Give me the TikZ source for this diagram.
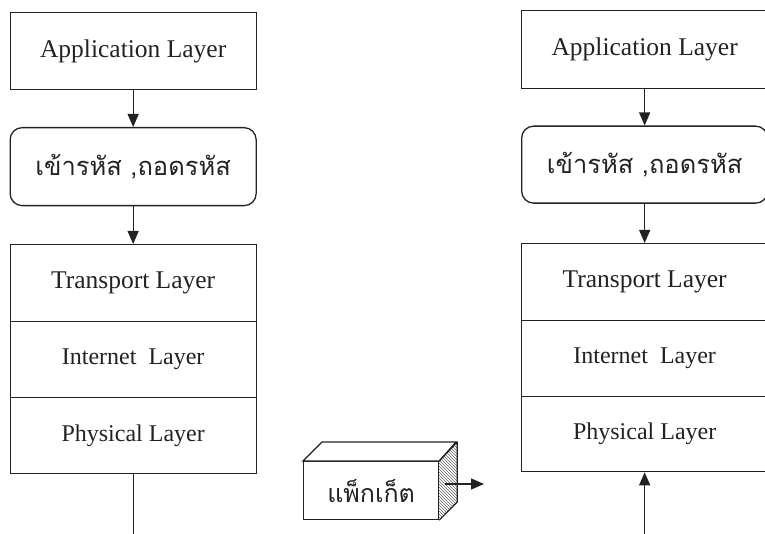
\documentclass[tikz,border=0pt]{standalone}
\usepackage{fontspec}
\setmainfont{Liberation Serif}
\newfontfamily\thaifont[Script=Thai]{Loma}
\usetikzlibrary{arrows.meta,calc}
\definecolor{ink}{HTML}{222222}
\begin{document}
\begin{tikzpicture}[x=1pt,y=-1pt,
  line width=1.3pt,
  box/.style={draw=ink, rectangle, inner sep=0pt, anchor=north west, text=ink,
              minimum width=246pt},
  roundbox/.style={box, rounded corners=12pt},
  bigtxt/.style={font=\fontsize{25.5}{28}\selectfont},
  smalltxt/.style={font=\fontsize{24}{27}\selectfont},
  thaitxt/.style={font=\thaifont\fontsize{25.5}{28}\selectfont},
  flow/.style={draw=ink, -{Triangle[length=13pt,width=11pt]}}
]
\useasboundingbox (0,0) rectangle (765,534);

% left protocol stack
\node[box, bigtxt, minimum height=77pt] (app1) at (9.5,12) {Application Layer};
\node[roundbox, thaitxt, minimum height=78pt] (code1) at (9.5,127) {เข้ารหัส ,ถอดรหัส};
\node[box, bigtxt, minimum height=77pt] (trans1) at (9.5,244) {Transport Layer};
\node[box, smalltxt, minimum height=76pt] (inet1) at (9.5,321) {Internet\ \ Layer};
\node[box, smalltxt, minimum height=76pt] (phys1) at (9.5,397) {Physical Layer};

% right protocol stack
\node[box, bigtxt, minimum height=78pt] (app2) at (521,10) {Application Layer};
\node[roundbox, thaitxt, minimum height=77pt] (code2) at (521,125.5) {เข้ารหัส ,ถอดรหัส};
\node[box, bigtxt, minimum height=77pt] (trans2) at (521,243) {Transport Layer};
\node[box, smalltxt, minimum height=76pt] (inet2) at (521,320) {Internet\ \ Layer};
\node[box, smalltxt, minimum height=75pt] (phys2) at (521,396) {Physical Layer};

% downward flow on the sending side
\draw[flow] (app1.south) -- (code1.north);
\draw[flow] (code1.south) -- (trans1.north);
\coordinate (out1) at (phys1.south |- 0,540);
\draw[draw=ink] (phys1.south) -- (out1);

% upward flow on the receiving side
\draw[flow] (app2.south) -- (code2.north);
\draw[flow] (code2.south) -- (trans2.north);
\coordinate (in2) at (phys2.south |- 0,540);
\draw[flow] (in2) -- (phys2.south);

% packet drawn as a block
\node[draw=ink, line width=1.2pt, inner sep=0pt, anchor=north west,
      minimum width=135pt, minimum height=58pt,
      font=\thaifont\fontsize{25}{28}\selectfont, text=ink] (pkt) at (303,461) {แพ็กเก็ต};
\draw[draw=ink, line width=1.2pt, fill=white]
  (pkt.north west) -- ++(19,-19) -- ++(134,0) -- (pkt.north east) -- cycle;
\begin{scope}
  \clip (pkt.north east) -- ++(18,-19) -- ++(0,60) -- (pkt.south east) -- cycle;
  \foreach \k in {-30,-27,...,90}
    \draw[gray!80!black, line width=0.4pt] (430,\k+430) -- ++(40,40);
\end{scope}
\draw[draw=ink, line width=1.2pt, line join=round]
  (pkt.north east) -- ++(18,-19) -- ++(0,60) -- (pkt.south east);
\coordinate (pktout) at (484,484);
\draw[flow] (445,484) -- (pktout);
\end{tikzpicture}
\end{document}
